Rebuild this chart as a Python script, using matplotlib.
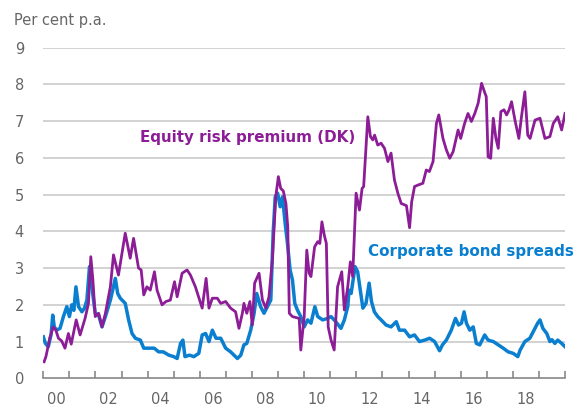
import numpy as np
import matplotlib
matplotlib.use("Agg")
import matplotlib.pyplot as plt
from matplotlib.ticker import FixedLocator, NullFormatter, FixedFormatter

# Equity risk premium (DK), per cent p.a. - year (decimal) and value
erp_year = [2000.03, 2000.10, 2000.25, 2000.38, 2000.48, 2000.58, 2000.70, 2000.83, 2000.96, 2001.07,
            2001.26, 2001.41, 2001.60, 2001.73, 2001.82, 2001.90, 2001.99, 2002.12, 2002.25, 2002.38,
            2002.57, 2002.69, 2002.88, 2003.14, 2003.33, 2003.46, 2003.65, 2003.75, 2003.85, 2003.97,
            2004.10, 2004.26, 2004.36, 2004.55, 2004.70, 2004.87, 2005.03, 2005.13, 2005.32, 2005.51,
            2005.64, 2005.83, 2006.09, 2006.24, 2006.35, 2006.48, 2006.67, 2006.80, 2006.99, 2007.18,
            2007.37, 2007.50, 2007.63, 2007.69, 2007.80, 2007.92, 2008.01, 2008.10, 2008.27, 2008.40,
            2008.53, 2008.65, 2008.78, 2008.91, 2009.01, 2009.10, 2009.20, 2009.30, 2009.37, 2009.43,
            2009.55, 2009.81, 2009.87, 2010.00, 2010.10, 2010.19, 2010.26, 2010.40, 2010.52, 2010.60,
            2010.68, 2010.77, 2010.85, 2010.92, 2011.03, 2011.15, 2011.28, 2011.44, 2011.54, 2011.67,
            2011.77, 2011.86, 2011.99, 2012.12, 2012.22, 2012.28, 2012.44, 2012.54, 2012.63, 2012.70,
            2012.82, 2012.95, 2013.08, 2013.21, 2013.33, 2013.46, 2013.59, 2013.72, 2013.85, 2013.92,
            2014.04, 2014.12, 2014.23, 2014.36, 2014.55, 2014.68, 2014.80, 2014.94, 2015.07, 2015.16,
            2015.32, 2015.45, 2015.58, 2015.71, 2015.90, 2016.00, 2016.15, 2016.28, 2016.41, 2016.54,
            2016.67, 2016.80, 2016.93, 2016.98, 2017.05, 2017.15, 2017.25, 2017.35, 2017.44, 2017.54,
            2017.66, 2017.76, 2017.85, 2017.95, 2018.08, 2018.23, 2018.33, 2018.46, 2018.57, 2018.66,
            2018.85, 2019.04, 2019.23, 2019.42, 2019.55, 2019.72, 2019.87, 2020.00]
erp_value = [0.45, 0.59, 1.10, 1.40, 1.31, 1.09, 1.02, 0.82, 1.22, 0.93,
             1.59, 1.18, 1.63, 2.04, 3.31, 2.68, 1.68, 1.77, 1.40, 1.77,
             2.49, 3.36, 2.81, 3.95, 3.27, 3.81, 3.00, 2.95, 2.27, 2.49,
             2.40, 2.90, 2.40, 2.00, 2.09, 2.13, 2.63, 2.22, 2.86, 2.95,
             2.81, 2.49, 1.91, 2.72, 1.91, 2.18, 2.18, 2.04, 2.09, 1.91,
             1.81, 1.36, 1.77, 2.04, 1.77, 2.09, 1.45, 2.59, 2.86, 2.13,
             1.91, 2.22, 3.22, 4.94, 5.49, 5.17, 5.10, 4.76, 4.13, 1.77,
             1.68, 1.63, 0.77, 1.68, 3.49, 2.86, 2.77, 3.58, 3.72, 3.67,
             4.26, 3.90, 3.67, 1.40, 1.04, 0.77, 2.49, 2.90, 1.86, 2.49,
             3.17, 2.77, 5.04, 4.58, 5.17, 5.22, 7.12, 6.58, 6.49, 6.62,
             6.35, 6.40, 6.26, 5.90, 6.13, 5.40, 5.04, 4.76, 4.72, 4.70,
             4.10, 4.80, 5.22, 5.26, 5.31, 5.67, 5.63, 5.90, 6.94, 7.17,
             6.53, 6.22, 5.99, 6.17, 6.76, 6.53, 6.94, 7.21, 6.99, 7.21,
             7.49, 8.03, 7.76, 7.67, 6.03, 5.99, 7.08, 6.53, 6.26, 7.26,
             7.31, 7.17, 7.30, 7.53, 7.03, 6.53, 7.12, 7.80, 6.62, 6.53,
             7.03, 7.08, 6.53, 6.58, 6.94, 7.12, 6.76, 7.21]

# Corporate bond spreads, per cent p.a.
cbs_year = [2000.00, 2000.08, 2000.19, 2000.30, 2000.36, 2000.42, 2000.51, 2000.64, 2000.77, 2000.90,
            2001.00, 2001.09, 2001.17, 2001.25, 2001.35, 2001.48, 2001.58, 2001.67, 2001.77, 2001.86,
            2001.99, 2002.12, 2002.25, 2002.38, 2002.57, 2002.66, 2002.76, 2002.85, 2002.95, 2003.14,
            2003.27, 2003.40, 2003.53, 2003.72, 2003.85, 2004.10, 2004.25, 2004.42, 2004.60, 2004.81,
            2005.00, 2005.13, 2005.26, 2005.35, 2005.43, 2005.60, 2005.77, 2005.96, 2006.09, 2006.22,
            2006.35, 2006.48, 2006.62, 2006.80, 2006.99, 2007.18, 2007.44, 2007.57, 2007.69, 2007.80,
            2007.95, 2008.08, 2008.18, 2008.33, 2008.46, 2008.59, 2008.72, 2008.81, 2008.89, 2008.98,
            2009.08, 2009.17, 2009.27, 2009.36, 2009.46, 2009.55, 2009.64, 2009.74, 2009.87, 2010.00,
            2010.13, 2010.26, 2010.41, 2010.52, 2010.71, 2010.90, 2011.03, 2011.20, 2011.41, 2011.54,
            2011.67, 2011.72, 2011.80, 2011.95, 2012.05, 2012.15, 2012.25, 2012.37, 2012.49, 2012.58,
            2012.69, 2012.82, 2012.95, 2013.14, 2013.33, 2013.53, 2013.65, 2013.85, 2014.04, 2014.23,
            2014.42, 2014.62, 2014.81, 2015.00, 2015.19, 2015.30, 2015.45, 2015.64, 2015.80, 2015.92,
            2016.03, 2016.13, 2016.22, 2016.35, 2016.48, 2016.60, 2016.73, 2016.92, 2017.05, 2017.25,
            2017.44, 2017.63, 2017.82, 2018.01, 2018.19, 2018.28, 2018.46, 2018.65, 2018.78, 2018.95,
            2019.04, 2019.15, 2019.30, 2019.42, 2019.50, 2019.61, 2019.72, 2019.87, 2020.00]
cbs_value = [1.13, 0.95, 0.86, 1.20, 1.72, 1.40, 1.31, 1.36, 1.68, 1.95,
             1.68, 2.00, 1.85, 2.49, 1.95, 1.81, 1.91, 2.13, 3.04, 2.49,
             1.77, 1.72, 1.40, 1.68, 2.13, 2.40, 2.72, 2.31, 2.18, 2.04,
             1.59, 1.22, 1.09, 1.04, 0.82, 0.82, 0.82, 0.72, 0.72, 0.63,
             0.59, 0.54, 0.95, 1.04, 0.59, 0.63, 0.59, 0.68, 1.18, 1.22,
             1.00, 1.31, 1.09, 1.09, 0.82, 0.72, 0.54, 0.63, 0.91, 0.95,
             1.31, 1.77, 2.31, 1.95, 1.77, 1.95, 2.13, 3.95, 4.94, 5.04,
             4.67, 4.94, 4.22, 3.67, 2.95, 2.68, 2.04, 1.86, 1.68, 1.40,
             1.59, 1.50, 1.95, 1.68, 1.59, 1.63, 1.68, 1.55, 1.36, 1.59,
             1.95, 2.40, 2.31, 3.04, 2.90, 2.40, 1.91, 2.04, 2.59, 2.09,
             1.81, 1.68, 1.59, 1.45, 1.40, 1.54, 1.31, 1.31, 1.13, 1.18,
             1.00, 1.04, 1.09, 1.00, 0.75, 0.91, 1.04, 1.31, 1.63, 1.45,
             1.50, 1.81, 1.50, 1.31, 1.40, 0.95, 0.91, 1.18, 1.04, 1.00,
             0.91, 0.82, 0.72, 0.68, 0.59, 0.77, 1.00, 1.09, 1.27, 1.50,
             1.59, 1.36, 1.22, 1.00, 1.05, 0.95, 1.04, 0.95, 0.86]

year_labels = ["00", "02", "04", "06", "08", "10", "12", "14", "16", "18"]
y_ticks = list(range(0, 10))

purple = "#8c1d96"
blue = "#0a7fd0"
grey_text = "#666666"

fig = plt.figure(figsize=(5.8, 4.12), dpi=100)
ax = fig.add_axes([0.0747, 0.0818, 0.8995, 0.8024])

# gridlines
for v in y_ticks[1:]:
    ax.axhline(v, color="#d2d2d2", linewidth=1.4, zorder=0)

ax.plot(cbs_year, cbs_value, color=blue, linewidth=2.5, solid_joinstyle="round", zorder=2)
ax.plot(erp_year, erp_value, color=purple, linewidth=2.0, solid_joinstyle="round", zorder=3)

ax.set_xlim(2000, 2020)
ax.set_ylim(0, 9)

# x axis: yearly ticks, labels in the middle of even years
ax.xaxis.set_major_locator(FixedLocator(np.arange(2000, 2021, 1)))
ax.xaxis.set_major_formatter(NullFormatter())
ax.xaxis.set_minor_locator(FixedLocator([2000.5 + 2 * i for i in range(len(year_labels))]))
ax.xaxis.set_minor_formatter(FixedFormatter(year_labels))
ax.tick_params(axis="x", which="major", direction="in", length=5, width=1.2, color="#888888")
ax.tick_params(axis="x", which="minor", length=0, pad=10, labelsize=10.5, labelcolor=grey_text)

ax.set_yticks(y_ticks)
ax.tick_params(axis="y", length=0, pad=14, labelsize=10.5, labelcolor=grey_text)
for lbl in ax.get_yticklabels():
    lbl.set_horizontalalignment("right")

for side in ["top", "right", "left"]:
    ax.spines[side].set_visible(False)
ax.spines["bottom"].set_color("#888888")
ax.spines["bottom"].set_linewidth(1.2)

# series labels
ax.text(2003.72, 6.55, "Equity risk premium (DK)", color=purple, fontsize=10.9,
        fontweight="bold", va="center", ha="left")
ax.text(2012.45, 3.45, "Corporate bond spreads", color=blue, fontsize=10.9,
        fontweight="bold", va="center", ha="left")

fig.text(14 / 580, 1 - 20 / 412, "Per cent p.a.", color=grey_text, fontsize=10.5,
         va="center", ha="left")

fig.savefig("out.png", dpi=100)
